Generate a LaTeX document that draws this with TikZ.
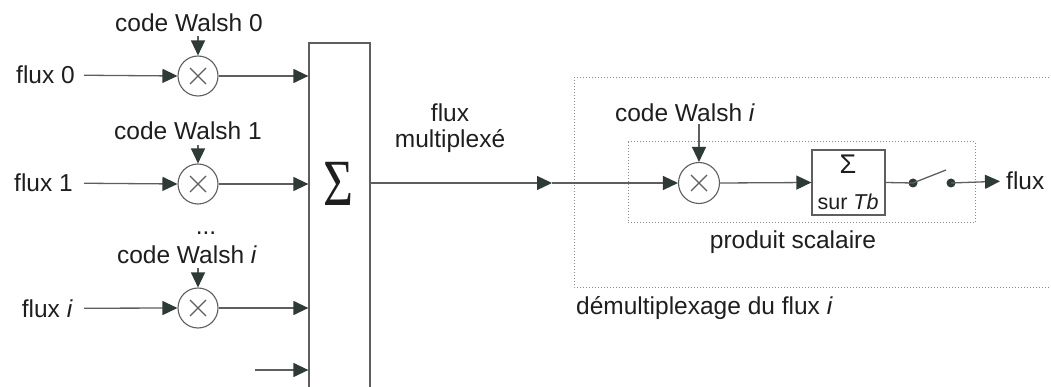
\documentclass[tikz,border=0pt]{standalone}
\usepackage{fontspec}
\setmainfont{Liberation Sans}
\newfontfamily\serifsig{Liberation Serif}
\usetikzlibrary{arrows.meta}
\definecolor{wirec}{HTML}{5E5E5E}
\definecolor{tipc}{HTML}{2E3A36}
\definecolor{txtc}{HTML}{1E1E1E}
\definecolor{dotc}{HTML}{8A8A8A}
\begin{document}
\begin{tikzpicture}[x=1pt,y=-1pt,
  lbl/.style={text=txtc,font=\fontsize{24.5}{27}\selectfont,inner sep=1pt},
  wire/.style={draw=wirec,line width=1.3pt},
  arr/.style={wire,-{Triangle[length=15pt,width=14pt,color=tipc]}},
  mult/.style={circle,draw=wirec,line width=1.1pt,minimum size=40pt,inner sep=0pt,
    path picture={\draw[wirec,line width=1.1pt]
      ([shift={(-8pt,-8pt)}]path picture bounding box.center) -- ++(16pt,16pt)
      ([shift={(-8pt,8pt)}]path picture bounding box.center) -- ++(16pt,-16pt);}},
  boxc/.style={draw=wirec,line width=1.3pt,inner sep=0pt},
  dotbox/.style={draw=dotc,dotted,line width=1pt},
  sdot/.style={circle,fill=tipc,minimum size=9pt,inner sep=0pt}]
\useasboundingbox (0,0) rectangle (1051,387);

% --- left side: multipliers
\node[mult] (m0) at (198,76) {};
\node[mult] (m1) at (198,184) {};
\node[mult] (mi) at (198,308) {};

\node[lbl,anchor=base east] (f0) at (76,84) {flux 0};
\node[lbl,anchor=base east] (f1) at (74,192) {flux 1};
\node[lbl,anchor=base east] (fi) at (74,317) {flux \textit{i}};

\node[lbl,anchor=base] (c0) at (189,32) {code Walsh 0};
\node[lbl,anchor=base] (c1) at (188,140) {code Walsh 1};
\node[lbl,anchor=base] (dots) at (206,235) {...};
\node[lbl,anchor=base] (ci) at (187,263) {code Walsh \textit{i}};

\draw[arr] ([xshift=8pt]f0.east) -- (m0.west);
\draw[arr] ([xshift=10pt]f1.east) -- (m1.west);
\draw[arr] ([xshift=10pt]fi.east) -- (mi.west);

\draw[arr] ([yshift=-4pt]m0 |- c0.base) -- (m0.north);
\draw[arr] ([yshift=-5pt]m1 |- c1.base) -- (m1.north);
\draw[arr] ([yshift=-5pt]mi |- ci.base) -- (mi.north);

% --- summing box
\node[boxc,minimum width=61pt,minimum height=380pt] (S) at (339.5,233) {};
\node[text=txtc,inner sep=0pt,anchor=base] (sig) at (338,206)
  {\scalebox{0.78}[1]{\fontsize{66}{66}\serifsig Σ}};

\draw[arr] (m0.east) -- (m0 -| S.west);
\draw[arr] (m1.east) -- (m1 -| S.west);
\draw[arr] (mi.east) -- (mi -| S.west);
\coordinate (extra) at (255,370);
\draw[arr] (extra) -- (extra -| S.west);

% --- multiplexed line
\node[lbl,anchor=base,align=center] (mux) at (450,148) {flux\\[-0.5pt]multiplexé};

% --- demultiplexer
\draw[dotbox] (1052,78) -- (574,78) -- (574,287) -- (1052,287);
\draw[dotbox] (628,142) rectangle (975,223);

\node[mult,minimum size=41pt] (dm) at (699,183) {};
\node[lbl,anchor=base] (cd) at (685,122) {code Walsh \textit{i}};
\draw[arr] ([yshift=-2pt]dm |- cd.base) -- (dm.north);

\coordinate (mid) at (552,183);
\draw[arr] (S.east |- dm) -- (mid);
\draw[arr] (mid) -- (dm.west);

\node[boxc,minimum width=73pt,minimum height=65pt] (tb) at (848.5,182.5) {};
\node[lbl,anchor=base,font=\fontsize{27}{30}\selectfont] (tbs) at (848,174) {Σ};
\node[lbl,anchor=base,font=\fontsize{21.5}{24}\selectfont] (tbt) at (848,210) {sur \textit{Tb}};
\draw[arr] (dm.east) -- (tb.west);

\node[sdot] (s1) at (913,183) {};
\node[sdot] (s2) at (951,183) {};
\coordinate (lev) at (946,170);
\draw[wire] (tb.east) -- (s1.center);
\draw[wire] (s1.center) -- (lev);
\node[lbl,anchor=base west] (fo) at (1005,190) {flux};
\draw[arr] (s2.center) -- ([xshift=-5pt]fo.west);

\node[lbl,anchor=base] (ps) at (793,248) {produit scalaire};
\node[lbl,anchor=base west] (dmx) at (575,314) {démultiplexage du flux \textit{i}};
\end{tikzpicture}
\end{document}
